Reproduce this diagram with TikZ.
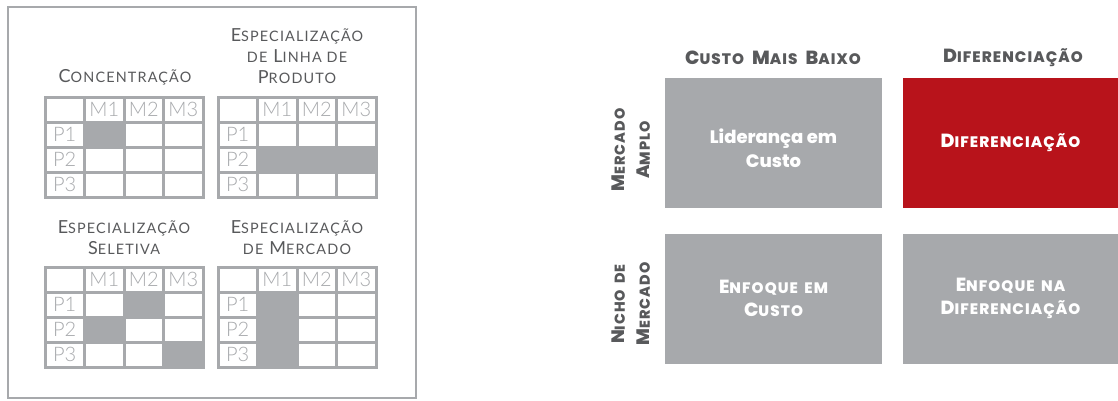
\documentclass[tikz,border=0pt]{standalone}
\usepackage{fontspec}
\setmainfont{Lato}
\IfFontExistsTF{Lato Light}{\newfontfamily\leve{Lato Light}}{\newfontfamily\leve{Lato}}
\IfFontExistsTF{Poppins ExtraBold}
    {\newfontfamily\boldsans{Poppins ExtraBold}
     \newfontfamily\capsans{Poppins ExtraBold}[LetterSpace=7,WordSpace=1.6]}
    {\newfontfamily\boldsans{Poppins}[UprightFeatures={FakeBold=1}]
     \newfontfamily\capsans{Poppins}[LetterSpace=7,WordSpace=1.6]}
\newfontfamily\titfont{Lato}[LetterSpace=8]
\usetikzlibrary{positioning}
\definecolor{cinza}{HTML}{A7A9AC}
\definecolor{cinzaesc}{HTML}{58595B}
\definecolor{vermelho}{HTML}{B8131B}
\makeatletter
\newcommand{\pq}[1]{{\fontsize{\the\dimexpr 0.8\dimexpr\f@size pt\relax\relax}{\f@baselineskip}\selectfont #1}}
\makeatother

\begin{document}
\begin{tikzpicture}[x=1pt,y=-1pt,
    titulo/.style={text=cinzaesc,align=center,font=\titfont\fontsize{18}{21}\selectfont},
    rot/.style={text=cinza,inner sep=0pt,font=\leve\fontsize{20}{20}\selectfont},
    caixa/.style={fill=cinza,minimum width=217pt,minimum height=130pt,inner sep=0pt},
    texto/.style={text=white,align=center,font=\capsans\fontsize{19}{23}\selectfont},
    cabec/.style={text=cinzaesc,font=\capsans\fontsize{19}{20}\selectfont},
    lado/.style={rotate=90,text=cinzaesc,align=center,font=\capsans\fontsize{18}{25}\selectfont}]
    \useasboundingbox (0,0) rectangle (1118,400);
    % moldura da esquerda
    \draw[cinza,line width=2pt] (8,7) rectangle (416,398);
    % grade 1: concentracao
    \begin{scope}[shift={(45,97)}]
        \fill[cinza] (-1.5,-1.5) rectangle (159.5,101.5);
        \foreach \c in {0,...,3} \foreach \r in {0,...,3}
            \fill[white] ({\c*39.5+1.5},{\r*25+1.5}) rectangle ({(\c+1)*39.5-1.5},{(\r+1)*25-1.5});
        \fill[cinza] (39.5,25) rectangle (79,50);
        \foreach \i in {1,2,3} {
            \node[rot] (am\i) at ({\i*39.5+19.75},12.5) {M\i};
            \node[rot] (ap\i) at (19.75,{\i*25+12.5}) {P\i};
        }
    \end{scope}
    % grade 2: linha de produto
    \begin{scope}[shift={(218,97)}]
        \fill[cinza] (-1.5,-1.5) rectangle (159.5,101.5);
        \foreach \c in {0,...,3} \foreach \r in {0,...,3}
            \fill[white] ({\c*39.5+1.5},{\r*25+1.5}) rectangle ({(\c+1)*39.5-1.5},{(\r+1)*25-1.5});
        \fill[cinza] (39.5,50) rectangle (158,75);
        \foreach \i in {1,2,3} {
            \node[rot] (bm\i) at ({\i*39.5+19.75},12.5) {M\i};
            \node[rot] (bp\i) at (19.75,{\i*25+12.5}) {P\i};
        }
    \end{scope}
    % grade 3: seletiva
    \begin{scope}[shift={(45,267)}]
        \fill[cinza] (-1.5,-1.5) rectangle (159.5,101.5);
        \foreach \c in {0,...,3} \foreach \r in {0,...,3}
            \fill[white] ({\c*39.5+1.5},{\r*25+1.5}) rectangle ({(\c+1)*39.5-1.5},{(\r+1)*25-1.5});
        \fill[cinza] (79,25) rectangle (118.5,50);
        \fill[cinza] (39.5,50) rectangle (79,75);
        \fill[cinza] (118.5,75) rectangle (158,100);
        \foreach \i in {1,2,3} {
            \node[rot] (cm\i) at ({\i*39.5+19.75},12.5) {M\i};
            \node[rot] (cp\i) at (19.75,{\i*25+12.5}) {P\i};
        }
    \end{scope}
    % grade 4: mercado
    \begin{scope}[shift={(218,267)}]
        \fill[cinza] (-1.5,-1.5) rectangle (159.5,101.5);
        \foreach \c in {0,...,3} \foreach \r in {0,...,3}
            \fill[white] ({\c*39.5+1.5},{\r*25+1.5}) rectangle ({(\c+1)*39.5-1.5},{(\r+1)*25-1.5});
        \fill[cinza] (39.5,25) rectangle (79,100);
        \foreach \i in {1,2,3} {
            \node[rot] (dm\i) at ({\i*39.5+19.75},12.5) {M\i};
            \node[rot] (dp\i) at (19.75,{\i*25+12.5}) {P\i};
        }
    \end{scope}
    \node[titulo] (tconc) at (125,77) {C\pq{ONCENTRAÇÃO}};
    \node[titulo] (tlinha) at (297,56.5) {E\pq{SPECIALIZAÇÃO}\\\pq{DE} L\pq{INHA DE}\\P\pq{RODUTO}};
    \node[titulo] (tsel) at (124,237.5) {E\pq{SPECIALIZAÇÃO}\\S\pq{ELETIVA}};
    \node[titulo] (tmerc) at (297,237.5) {E\pq{SPECIALIZAÇÃO}\\\pq{DE} M\pq{ERCADO}};
    % matriz de porter
    \node[caixa] (lider) at (773.5,143) {};
    \node[caixa,fill=vermelho,minimum width=215pt] (dif) at (1010.5,143) {};
    \node[caixa] (enfc) at (773.5,298.5) {};
    \node[caixa,minimum width=215pt] (enfd) at (1010.5,298.5) {};
    \node[texto,font=\boldsans\fontsize{18}{24}\selectfont,yshift=-5pt] (tlider) at (lider) {Liderança em\\Custo};
    \node[texto] (tdif) at (dif.center) {D\pq{IFERENCIAÇÃO}};
    \node[texto] (tenfc) at (enfc) {E\pq{NFOQUE EM}\\C\pq{USTO}};
    \node[texto] (tenfd) at (enfd) {E\pq{NFOQUE NA}\\D\pq{IFERENCIAÇÃO}};
    \node[cabec] (hcusto) at (773,58) {C\pq{USTO} M\pq{AIS} B\pq{AIXO}};
    \node[cabec] (hdif) at (1013,58) {D\pq{IFERENCIAÇÃO}};
    \node[lado] (amplo) at (631,150) {M\pq{ERCADO}\\A\pq{MPLO}};
    \node[lado] (nicho) at (631,304) {N\pq{ICHO DE}\\M\pq{ERCADO}};
\end{tikzpicture}
\end{document}
